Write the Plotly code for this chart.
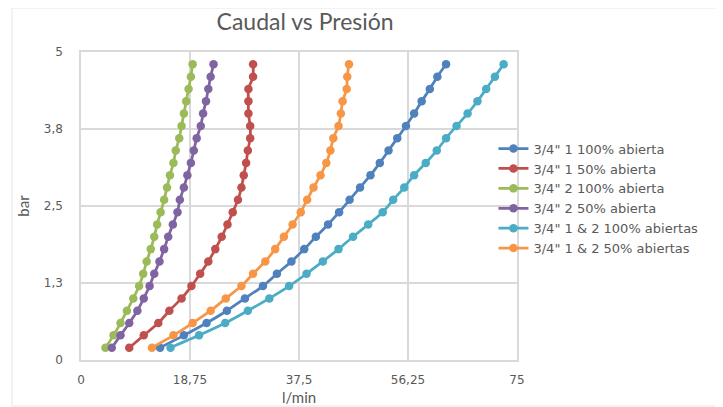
import plotly.graph_objects as go

# Pressure (bar) – shared by all series
presion = [0.2, 0.4, 0.6, 0.8, 1.0, 1.2, 1.4, 1.6, 1.8, 2.0, 2.2, 2.4,
           2.6, 2.8, 3.0, 3.2, 3.4, 3.6, 3.8, 4.0, 4.2, 4.4, 4.6, 4.8]

# Flow (l/min) for each series
v1_100 = [13.6, 17.7, 21.6, 25.1, 28.2, 31.3, 33.7, 36.2, 38.4, 40.4, 42.5, 44.4,
          46.2, 48.0, 49.8, 51.4, 52.9, 54.4, 55.9, 57.3, 58.6, 60.0, 61.3, 62.8]
v1_50 = [8.3, 10.8, 13.3, 15.2, 17.3, 19.0, 20.5, 21.9, 23.1, 24.2, 25.2, 26.1,
         27.0, 27.6, 28.0, 28.4, 28.7, 29.1, 29.1, 28.8, 28.8, 28.8, 29.6, 29.6]
v2_100 = [4.2, 5.6, 6.8, 7.9, 9.0, 10.0, 10.7, 11.3, 12.0, 12.6, 13.1, 13.7,
          14.3, 14.8, 15.3, 15.9, 16.3, 16.9, 17.3, 17.7, 18.1, 18.5, 18.9, 19.2]
v2_50 = [5.3, 6.8, 8.3, 9.7, 10.8, 11.8, 12.6, 13.5, 14.3, 15.0, 15.8, 16.6,
         17.0, 17.7, 18.3, 18.9, 19.4, 19.9, 20.6, 21.0, 21.5, 21.9, 22.3, 22.8]
v12_100 = [15.4, 20.3, 24.8, 28.7, 32.4, 35.8, 38.8, 41.6, 44.3, 46.8, 49.4, 51.9,
           53.7, 55.6, 57.3, 59.3, 61.2, 62.8, 64.6, 66.5, 68.2, 69.7, 71.2, 72.7]
v12_50 = [12.2, 15.9, 19.2, 22.3, 24.9, 27.6, 29.6, 31.7, 33.4, 34.9, 36.4, 37.8,
          38.9, 40.0, 41.2, 42.2, 42.9, 43.4, 44.3, 44.7, 45.0, 45.7, 45.8, 46.1]

nombres = ['3/4" 1 100% abierta', '3/4" 1 50% abierta', '3/4" 2 100% abierta',
           '3/4" 2 50% abierta', '3/4" 1 & 2 100% abiertas', '3/4" 1 & 2 50% abiertas']
series = [v1_100, v1_50, v2_100, v2_50, v12_100, v12_50]
colores = ['#4F81BD', '#C0504D', '#9BBB59', '#8064A2', '#4BACC6', '#F79646']

x_ticks = [0, 18.75, 37.5, 56.25, 75]
x_labels = ['0', '18,75', '37,5', '56,25', '75']
y_ticks = [0, 1.25, 2.5, 3.75, 5]
y_labels = ['0', '1,3', '2,5', '3,8', '5']

fig = go.Figure()
for name, xs, col in zip(nombres, series, colores):
    fig.add_trace(go.Scatter(
        x=xs, y=presion, name=name, mode='lines+markers',
        line=dict(color=col, width=2.75, shape='spline', smoothing=0.6),
        marker=dict(color=col, size=8.5),
    ))

grid = '#D9D9D9'
# The page body adds an 8px offset, so margins are reduced accordingly.
fig.update_layout(
    width=715, height=399,
    margin=dict(l=73, r=206, t=44, b=47, autoexpand=False),
    paper_bgcolor='white', plot_bgcolor='white',
    font=dict(family='DejaVu Sans', color='#595959', size=12),
    title=dict(text='Caudal vs Presión', x=0.514, xref='paper', xanchor='center',
               y=0.965, yref='container', yanchor='middle',
               font=dict(family='Lato', size=23, color='#595959')),
    xaxis=dict(range=[0, 75], tickvals=x_ticks, ticktext=x_labels,
               showgrid=True, gridcolor=grid, gridwidth=1.5,
               showline=True, linecolor=grid, linewidth=1.5, mirror=True,
               zeroline=False, ticks='', ticklabelstandoff=8, automargin=False,
               title=dict(text='l/min', font=dict(family='Lato', size=15, color='#595959'),
                          standoff=6)),
    yaxis=dict(range=[0, 5], tickvals=y_ticks, ticktext=y_labels,
               showgrid=True, gridcolor=grid, gridwidth=1.5,
               showline=True, linecolor=grid, linewidth=1.5, mirror=True,
               zeroline=False, ticks='', ticklabelstandoff=14, automargin=False,
               title=dict(text='bar', font=dict(family='Lato', size=15, color='#595959'),
                          standoff=11)),
    legend=dict(x=0.946, y=0.735, xanchor='left', yanchor='top',
                font=dict(family='DejaVu Sans', size=13, color='#595959'),
                bgcolor='rgba(0,0,0,0)', itemwidth=30, tracegroupgap=0),
    shapes=[dict(type='rect', xref='paper', yref='paper',
                 x0=(12 - 81) / 436, x1=(722 - 81) / 436,
                 y0=(360 - 406) / 308, y1=(360 - 8) / 308,
                 line=dict(color='#E6E6E6', width=1), layer='below')],
)

fig.write_html('out.html')
